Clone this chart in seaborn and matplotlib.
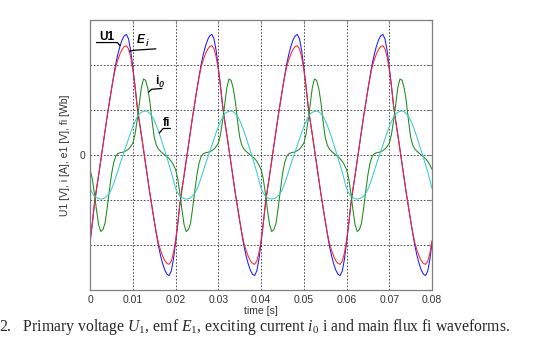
import numpy as np
import pandas as pd
import matplotlib
matplotlib.use("Agg")
import matplotlib.pyplot as plt
import seaborn as sns

# One 50 Hz period (0 .. 19.5 ms, every 0.5 ms).
# The plot shows four identical periods of each waveform.
u1_period = [-1.95, -1.55, -1.10, -0.76, -0.45, -0.12, 0.22, 0.55, 0.86, 1.16,
             1.46, 1.75, 2.02, 2.24, 2.42, 2.56, 2.65, 2.68, 2.58, 2.32,
             1.95, 1.55, 1.10, 0.76, 0.45, 0.12, -0.22, -0.55, -0.86, -1.16,
             -1.46, -1.75, -2.02, -2.24, -2.42, -2.56, -2.65, -2.68, -2.58, -2.32]
e1_period = [-1.90, -1.53, -1.10, -0.76, -0.45, -0.12, 0.22, 0.55, 0.86, 1.16,
             1.46, 1.73, 1.96, 2.12, 2.25, 2.35, 2.41, 2.43, 2.36, 2.18,
             1.90, 1.53, 1.10, 0.76, 0.45, 0.12, -0.22, -0.55, -0.86, -1.16,
             -1.46, -1.73, -1.96, -2.12, -2.25, -2.35, -2.41, -2.43, -2.36, -2.18]
i0_period = [-0.32, -0.52, -0.84, -1.22, -1.55, -1.70, -1.66, -1.52, -1.18, -0.80,
             -0.44, -0.18, -0.03, 0.03, 0.05, 0.06, 0.07, 0.10, 0.13, 0.19,
             0.26, 0.45, 0.76, 1.12, 1.50, 1.69, 1.66, 1.48, 1.18, 0.76,
             0.40, 0.22, 0.13, 0.08, 0.04, 0.00, -0.04, -0.08, -0.14, -0.22]
fi_period = [-0.74, -0.84, -0.91, -0.95, -0.97, -0.98, -0.97, -0.95, -0.91, -0.85,
             -0.76, -0.64, -0.50, -0.35, -0.20, -0.06, 0.08, 0.22, 0.36, 0.50,
             0.63, 0.74, 0.84, 0.91, 0.95, 0.97, 0.98, 0.96, 0.92, 0.86,
             0.77, 0.66, 0.53, 0.39, 0.24, 0.09, -0.06, -0.22, -0.38, -0.56]
n_periods = 4
dt = 0.0005

series_names = ["U1", "E1", "i0", "fi"]
series_colors = ["#1a1aff", "#ff2424", "#1a8c1a", "#3ccaca"]

x_ticks = [0, 0.01, 0.02, 0.03, 0.04, 0.05, 0.06, 0.07, 0.08]
x_tick_labels = ["0", "0.01", "0.02", "0.03", "0.04", "0.05", "0.06", "0.07", "0.08"]
y_ticks = [-3, -2, -1, 0, 1, 2, 3]
y_tick_labels = ["", "", "", "0", "", "", ""]


def full_series(period):
    vals = np.tile(period, n_periods)
    return np.r_[vals, period[0]]


t = np.arange(len(u1_period) * n_periods + 1) * dt
frames = []
for name, per in zip(series_names, [u1_period, e1_period, i0_period, fi_period]):
    frames.append(pd.DataFrame({"time": t, "value": full_series(per), "signal": name}))
df = pd.concat(frames, ignore_index=True)

sns.set_style("white")
plt.rcParams["font.family"] = ["Liberation Sans", "DejaVu Sans"]
plt.rcParams["mathtext.fontset"] = "custom"
plt.rcParams["mathtext.rm"] = "Liberation Serif"
plt.rcParams["mathtext.it"] = "Liberation Serif:italic"

fig = plt.figure(figsize=(5.56, 3.58), dpi=100)
ax = fig.add_axes([0.162, 0.19, 0.615, 0.754])

sns.lineplot(data=df, x="time", y="value", hue="signal", hue_order=series_names,
             palette=series_colors, linewidth=0.75, legend=False, ax=ax)

ax.set_xlim(0, 0.08)
ax.set_ylim(-3, 3)
ax.set_xticks(x_ticks)
ax.set_xticklabels(x_tick_labels)
ax.set_yticks(y_ticks)
ax.set_yticklabels(y_tick_labels)
ax.grid(True, color="#333333", linestyle=(0, (2, 2)), linewidth=0.6)
for sp in ax.spines.values():
    sp.set_color("#808080")
    sp.set_linewidth(0.9)
ax.tick_params(direction="in", length=3, color="#808080", labelsize=7.5,
               labelcolor="#333333", top=True, right=True)
ax.set_xlabel("time [s]", fontsize=7.5, color="#333333", labelpad=1)
ax.set_ylabel("U1 [V], i [A], e1 [V], fi [Wb]", fontsize=7.5, color="#333333", labelpad=7)

# curve labels with leader lines
lab = dict(fontsize=8.5, fontweight="bold", color="black", ha="center", va="center")
ax.text(0.0039, 2.63, "U1", **lab)
ax.plot([0.0015, 0.0064, 0.0070], [2.50, 2.50, 2.43], color="black", lw=0.9)
ax.text(0.0119, 2.56, "E", fontstyle="italic", **lab)
ax.text(0.0133, 2.47, "i", fontsize=6.5, fontweight="bold", fontstyle="italic", ha="center", va="center")
ax.plot([0.0092, 0.0105, 0.0154], [2.31, 2.33, 2.36], color="black", lw=0.9)
ax.text(0.0157, 1.65, "i", **lab)
ax.text(0.0166, 1.57, "0", fontsize=6.5, fontweight="bold", fontstyle="italic", ha="center", va="center")
ax.plot([0.0137, 0.0144, 0.0168], [1.40, 1.46, 1.48], color="black", lw=0.9)
ax.text(0.0179, 0.72, "fi", **lab)
ax.plot([0.0162, 0.0171, 0.0188], [0.49, 0.59, 0.59], color="black", lw=0.9)

fig.text(-0.002, 0.087,
         "2.   Primary voltage $U_1$, emf $E_1$, exciting current $i_0$ i and main flux fi waveforms.",
         fontsize=11.3, family="Liberation Serif", ha="left", va="center")

fig.savefig("out.png", dpi=100)
